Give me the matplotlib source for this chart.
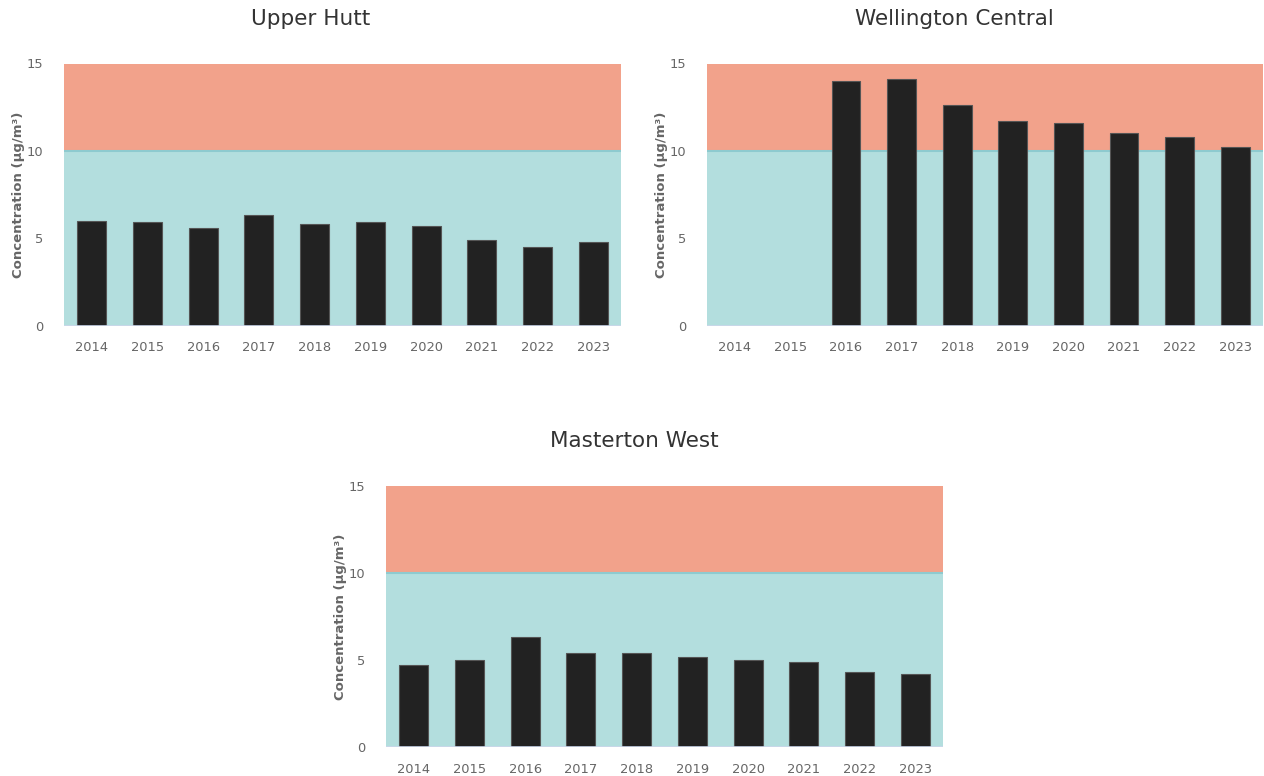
import matplotlib
matplotlib.use("Agg")
import matplotlib.pyplot as plt
import numpy as np

years = ["2014", "2015", "2016", "2017", "2018", "2019", "2020", "2021", "2022", "2023"]
upper_hutt = [6.0, 5.9, 5.6, 6.3, 5.8, 5.9, 5.7, 4.9, 4.5, 4.8]
wellington_central = [None, None, 14.0, 14.1, 12.6, 11.7, 11.6, 11.0, 10.8, 10.2]
masterton_west = [4.7, 5.0, 6.3, 5.4, 5.4, 5.2, 5.0, 4.9, 4.3, 4.2]
titles = ["Upper Hutt", "Wellington Central", "Masterton West"]
guideline = 10
ymax = 15
yticks = [0, 5, 10, 15]

plt.rcParams['font.family'] = ['DejaVu Sans']

fig = plt.figure(figsize=(12.64, 7.76), dpi=100)
rects = [
    [64/1264, 1-325.5/776, 557/1264, 262/776],
    [707/1264, 1-325.5/776, 556/1264, 262/776],
    [386/1264, 1-747.3/776, 557/1264, 261.6/776],
]
title_pos = [(311/1264, 1-19/776), (954/1264, 1-19/776), (634/1264, 1-441/776)]
series = [upper_hutt, wellington_central, masterton_west]

for rect, vals, title, tp in zip(rects, series, titles, title_pos):
    ax = fig.add_axes(rect)
    x = np.arange(len(years))
    ax.set_xlim(-0.5, len(years) - 0.5)
    ax.set_ylim(0, ymax)
    ax.axhspan(guideline, ymax, color='#F2A28B', zorder=0, lw=0)
    ax.axhspan(0, guideline, color='#B3DEDE', zorder=0, lw=0)
    ax.axhline(guideline, color='#8ECACF', lw=1.5, zorder=1)
    xs = [xi for xi, v in zip(x, vals) if v is not None]
    vs = [v for v in vals if v is not None]
    ax.bar(xs, vs, width=0.52, color='#222222', edgecolor='#555555', linewidth=0.8, zorder=2)
    for s in ax.spines.values():
        s.set_visible(False)
    ax.axhline(0, color='#CCD6EB', lw=1.2, zorder=3)
    ax.set_xticks(x)
    ax.set_xticklabels(years)
    ax.set_yticks(yticks)
    ax.tick_params(axis='both', length=0, labelsize=9.4, colors='#666666')
    ax.tick_params(axis='x', pad=11)
    ax.tick_params(axis='y', pad=15)
    ax.set_ylabel("Concentration (µg/m³)", fontsize=9.5, color='#666666', fontweight='bold', labelpad=1)
    fig.text(tp[0], tp[1], title, fontsize=15.5, color='#333333', ha='center', va='center')

fig.savefig("out.png", dpi=100)
